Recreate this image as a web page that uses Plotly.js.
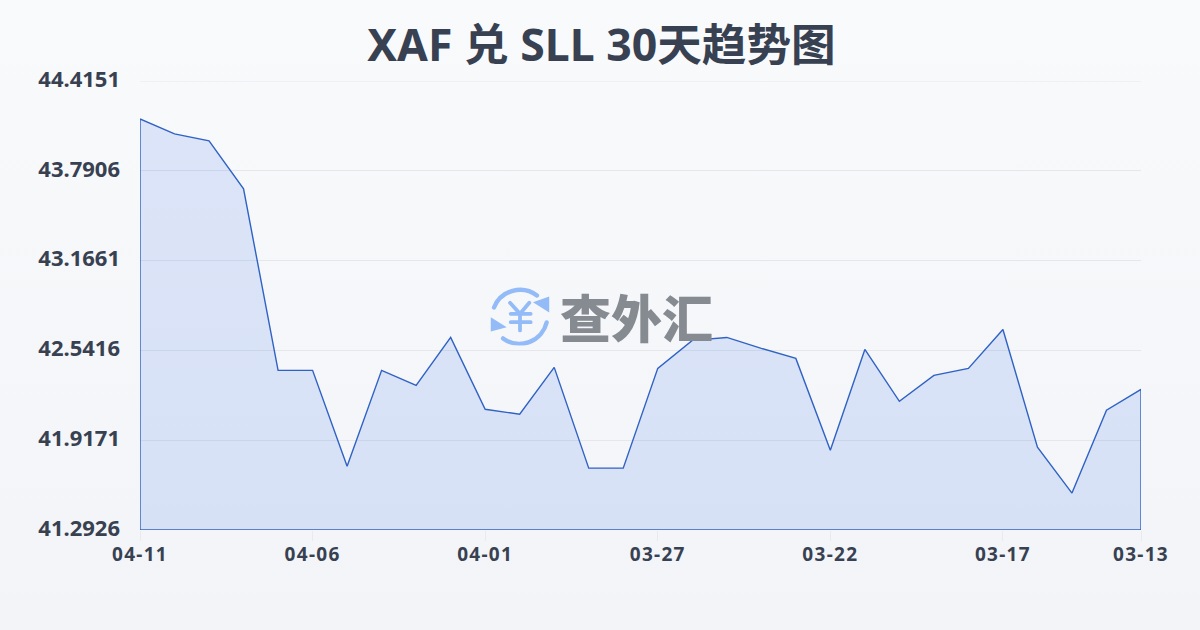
<!DOCTYPE html>
<html><head><meta charset="utf-8">
<script src="https://cdn.plot.ly/plotly-3.0.0.min.js"></script>
<style>html,body{margin:0;padding:0;width:1200px;height:630px;overflow:hidden;background:linear-gradient(180deg,#f9fafc 0%,#f2f4f7 100%)}#c{width:1200px;height:630px}
.xtick text{letter-spacing:1.3px}
</style>
</head><body><div id="c"></div>
<script>
const dates=["04-11","04-10","04-09","04-08","04-07","04-06","04-05","04-04","04-03","04-02","04-01","03-31","03-30","03-29","03-28","03-27","03-26","03-25","03-24","03-23","03-22","03-21","03-20","03-19","03-18","03-17","03-16","03-15","03-14","03-13"];
const values=[44.1514,44.0473,43.9988,43.6657,42.4028,42.4028,41.7367,42.4028,42.2987,42.6318,42.1322,42.0975,42.4236,41.7228,41.7228,42.4167,42.6110,42.6318,42.5555,42.4861,41.8477,42.5485,42.1877,42.3681,42.4167,42.6873,41.8685,41.5493,42.1253,42.2710];
const xTicks=["04-11","04-06","04-01","03-27","03-22","03-17","03-13"];
const yTicks=[41.2926,41.9171,42.5416,43.1661,43.7906,44.4151];
const yLabels=["41.2926","41.9171","42.5416","43.1661","43.7906","44.4151"];
const titleText="XAF 兑 SLL 30天趋势图";
const brand="查外汇";
const yMin=yTicks[0],yMax=yTicks[yTicks.length-1];
const first=dates[0],last=dates[dates.length-1];
const font='"Noto Sans","Noto Sans CJK SC",sans-serif';
const icon=`<svg xmlns="http://www.w3.org/2000/svg" viewBox="0 0 60 60"><g fill="none" stroke="#93bbf8" stroke-linecap="round"><path stroke-width="4.4" d="M4 22A28 28 0 0 1 47 10"/><path stroke-width="4.4" d="M56.7 37A28 28 0 0 1 13 53"/><path stroke-width="3.8" d="M20 17.3L30 28.3L39.3 17.3M20.7 28.3H40.7M20.7 36.7H40.7M30 28.3V45"/></g><path fill="#93bbf8" d="M59.3 11V27L43 16.7ZM.7 31.7V46L16.7 41.7Z"/></svg>`;
const trace={type:'scatter',mode:'lines',
 x:[...dates,last,first,first],
 y:[...values,yMin,yMin,values[0]],
 fill:'toself',fillcolor:'rgba(37,99,235,0.135)',
 line:{color:'#2f62c4',width:1.4,shape:'linear'},hoverinfo:'skip'};
const layout={width:1200,height:630,paper_bgcolor:'rgba(0,0,0,0)',plot_bgcolor:'rgba(0,0,0,0)',showlegend:false,
 margin:{l:140,r:59,t:80.5,b:99.5},
 title:{text:titleText,x:0.5012,xanchor:'center',y:0.928,yanchor:'middle',font:{family:font,size:44.6,color:'#374151',weight:700}},
 xaxis:{type:'category',categoryorder:'array',categoryarray:dates,range:[0,dates.length-1],tickmode:'array',tickvals:xTicks,ticktext:xTicks,
  showgrid:false,zeroline:false,showline:false,ticks:'outside',ticklen:10,tickwidth:1,tickcolor:'#e8eaee',ticklabelstandoff:-3,
  tickfont:{family:font,size:19,color:'#374151',weight:700}},
 yaxis:{range:[yMin,yMax],tickmode:'array',tickvals:yTicks,ticktext:yLabels,showgrid:true,gridcolor:'#e5e7eb',gridwidth:1,zeroline:false,showline:false,ticks:'',
  ticklabelstandoff:19,ticklabelshift:-2,tickfont:{family:font,size:22,color:'#374151',weight:700}},
 shapes:[{type:'line',xref:'paper',yref:'y',x0:0,x1:1,y0:yMax,y1:yMax,line:{color:'#e5e7eb',width:1},layer:'below'}],
 images:[{source:'data:image/svg+xml;utf8,'+encodeURIComponent(icon),xref:'paper',yref:'paper',xanchor:'left',yanchor:'top',
  x:(490-140)/1001,y:(530-285)/450,sizex:60/1001,sizey:60/450,sizing:'contain',layer:'above',opacity:1}],
 annotations:[{text:brand,xref:'paper',yref:'paper',x:(636-140)/1001,y:(530-316)/450,xanchor:'center',yanchor:'middle',showarrow:false,
  font:{family:'"Noto Sans CJK SC",sans-serif',size:51,color:'#868a91',weight:900}}]};
Plotly.newPlot('c',[trace],layout,{displayModeBar:false,staticPlot:true});
</script></body></html>
